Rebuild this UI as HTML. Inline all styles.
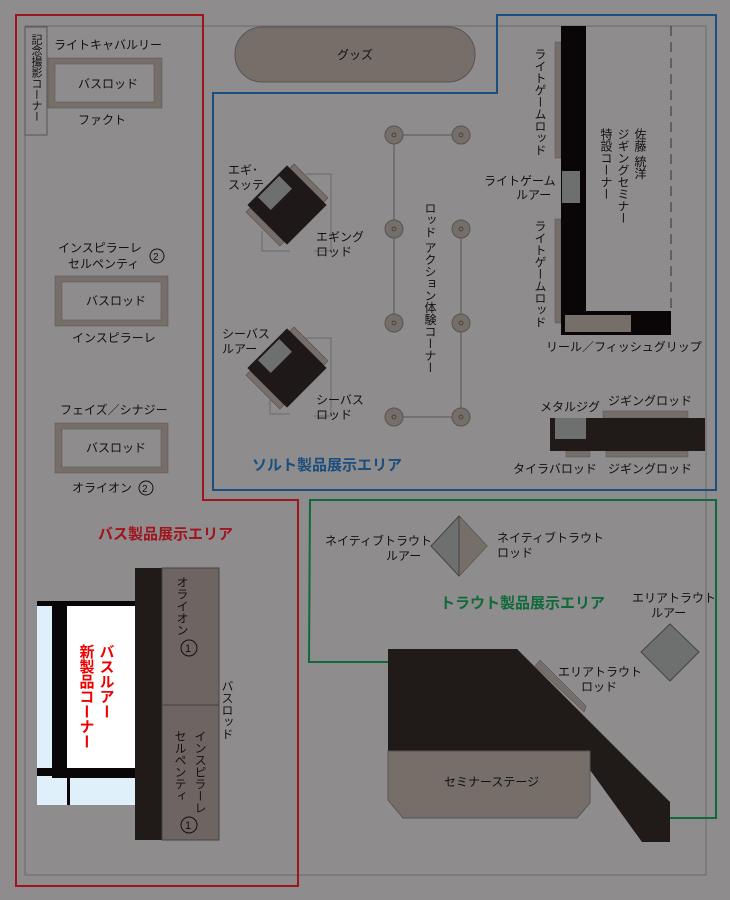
<!DOCTYPE html>
<html><head><meta charset="utf-8"><style>
html,body{margin:0;padding:0;background:#8e8c8c;}
svg{display:block;}
text{font-family:"Liberation Sans","Noto Sans CJK JP",sans-serif;font-size:12px;fill:#111;}
.v{writing-mode:tb;glyph-orientation-vertical:0;}
.t{font-size:15px;font-weight:bold;}
</style></head><body>
<svg width="730" height="900" viewBox="0 0 730 900" xmlns="http://www.w3.org/2000/svg">
<rect width="730" height="900" fill="#8e8c8c"/>
<rect x="25" y="26" width="681" height="849" fill="none" stroke="#6a6868" stroke-width="1"/>
<path d="M16 15H203V500H298V886H16Z" fill="none" stroke="#a0141e" stroke-width="2"/>
<path d="M497 15H716V490H213V93H497Z" fill="none" stroke="#1a4e7e" stroke-width="2"/>
<path d="M310 500H716V818H666L510 662H309Z" fill="none" stroke="#0e6a3a" stroke-width="2"/>
<rect x="25" y="27" width="22" height="108" fill="#8e8c8c" stroke="#555"/>
<text x="36" y="34" class="v" style="font-size:11px">記念撮影コーナー</text>
<g fill="#766e69" stroke="#555" stroke-width="0.5">
<rect x="48" y="58" width="114" height="50"/><rect x="55" y="64" width="99" height="38" fill="#8e8c8c"/>
<rect x="55" y="276" width="113" height="50"/><rect x="62" y="282" width="99" height="38" fill="#8e8c8c"/>
<rect x="55" y="423" width="113" height="50"/><rect x="62" y="429" width="99" height="38" fill="#8e8c8c"/>
</g>
<text x="78" y="88">バスロッド</text>
<text x="86" y="305">バスロッド</text>
<text x="86" y="452">バスロッド</text>
<text x="54" y="49">ライトキャバルリー</text>
<text x="78" y="124">ファクト</text>
<text x="58" y="252">インスピラーレ</text>
<text x="68" y="268">セルペンティ</text>
<circle cx="157" cy="256" r="7" fill="none" stroke="#111"/><text x="153" y="260" style="font-size:10px">2</text>
<text x="72" y="342">インスピラーレ</text>
<text x="60" y="414">フェイズ／シナジー</text>
<text x="72" y="492">オライオン</text>
<circle cx="146" cy="488" r="7" fill="none" stroke="#111"/><text x="142" y="492" style="font-size:10px">2</text>
<text x="98" y="539" class="t" style="fill:#a0141e">バス製品展示エリア</text>
<rect x="235" y="27" width="240" height="55" rx="27" fill="#766e69" stroke="#555"/>
<text x="337" y="59">グッズ</text>
<g transform="translate(287,205) rotate(45)">
<rect x="-24" y="-34" width="48" height="6" fill="#766e69" stroke="#444" stroke-width=".5"/>
<rect x="-24" y="28" width="48" height="6" fill="#766e69" stroke="#444" stroke-width=".5"/>
<rect x="-28" y="-28" width="56" height="56" fill="#1e1918"/>
<rect x="-26" y="-15" width="18" height="30" fill="#6e706f"/>
</g>
<g transform="translate(287,368) rotate(45)">
<rect x="-24" y="-34" width="48" height="6" fill="#766e69" stroke="#444" stroke-width=".5"/>
<rect x="-24" y="28" width="48" height="6" fill="#766e69" stroke="#444" stroke-width=".5"/>
<rect x="-28" y="-28" width="56" height="56" fill="#1e1918"/>
<rect x="-26" y="-15" width="18" height="30" fill="#6e706f"/>
</g>
<path d="M306 174H331V251H314M262 231V251H290" fill="none" stroke="#6a6868"/>
<path d="M306 338H331V416H314M270 398V414H290" fill="none" stroke="#6a6868"/>
<text x="228" y="174">エギ･</text><text x="228" y="189">スッテ</text>
<text x="316" y="241">エギング</text><text x="316" y="256">ロッド</text>
<text x="222" y="338">シーバス</text><text x="222" y="353">ルアー</text>
<text x="316" y="404">シーバス</text><text x="316" y="419">ロッド</text>
<g stroke="#555" fill="none"><path d="M394 135H461M394 417H461M394 135V323M461 229V417"/></g>
<g fill="#766e69" stroke="#555">
<circle cx="394" cy="135" r="9"/><circle cx="461" cy="135" r="9"/>
<circle cx="394" cy="229" r="9"/><circle cx="461" cy="229" r="9"/>
<circle cx="394" cy="323" r="9"/><circle cx="461" cy="323" r="9"/>
<circle cx="394" cy="417" r="9"/><circle cx="461" cy="417" r="9"/>
</g>
<g fill="none" stroke="#333" stroke-width=".7">
<circle cx="394" cy="135" r="2"/><circle cx="461" cy="135" r="2"/><circle cx="394" cy="229" r="2"/><circle cx="461" cy="229" r="2"/>
<circle cx="394" cy="323" r="2"/><circle cx="461" cy="323" r="2"/><circle cx="394" cy="417" r="2"/><circle cx="461" cy="417" r="2"/></g>
<text x="430" y="202" class="v">ロッド アクション体験コーナー</text>
<text x="252" y="470" class="t" style="fill:#1a4e7e">ソルト製品展示エリア</text>
<rect x="555" y="42" width="6" height="116" fill="#766e69" stroke="#555" stroke-width=".5"/>
<rect x="555" y="219" width="6" height="104" fill="#766e69" stroke="#555" stroke-width=".5"/>
<rect x="561" y="26" width="25" height="309" fill="#0a0506"/>
<rect x="561" y="311" width="110" height="24" fill="#0a0506"/>
<rect x="565" y="315" width="66" height="17" fill="#766e69"/>
<rect x="562" y="171" width="18" height="32" fill="#6e706f"/>
<line x1="671" y1="26" x2="671" y2="311" stroke="#333" stroke-dasharray="10,6"/>
<text x="540" y="48" class="v">ライトゲームロッド</text>
<text x="540" y="220" class="v">ライトゲームロッド</text>
<text x="484" y="185">ライトゲーム</text><text x="516" y="199">ルアー</text>
<text x="640" y="128" class="v">佐藤 統洋</text>
<text x="623" y="128" class="v">ジギングセミナー</text>
<text x="606" y="128" class="v">特設コーナー</text>
<text x="546" y="351">リール／フィッシュグリップ</text>
<rect x="603" y="411" width="85" height="7" fill="#766e69" stroke="#555" stroke-width=".5"/>
<rect x="566" y="451" width="24" height="6" fill="#766e69" stroke="#555" stroke-width=".5"/>
<rect x="606" y="451" width="82" height="6" fill="#766e69" stroke="#555" stroke-width=".5"/>
<rect x="550" y="418" width="155" height="33" fill="#201a19"/>
<rect x="555" y="418" width="31" height="21" fill="#6e706f"/>
<text x="540" y="411">メタルジグ</text>
<text x="608" y="405">ジギングロッド</text>
<text x="513" y="473">タイラバロッド</text>
<text x="608" y="473">ジギングロッド</text>
<polygon points="459,516 487,546 459,576 431,546" fill="#6e706f" stroke="#444"/>
<polygon points="459,516 487,546 459,576" fill="#766e69"/>
<line x1="459" y1="516" x2="459" y2="576" stroke="#444"/>
<text x="325" y="545">ネイティブトラウト</text><text x="386" y="560">ルアー</text>
<text x="497" y="542">ネイティブトラウト</text><text x="497" y="557">ロッド</text>
<text x="440" y="608" class="t" style="fill:#0e6a3a">トラウト製品展示エリア</text>
<polygon points="670,624 699,652 670,681 641,652" fill="#6e706f" stroke="#444"/>
<text x="632" y="602">エリアトラウト</text><text x="651" y="617">ルアー</text>
<text x="558" y="676">エリアトラウト</text><text x="581" y="691">ロッド</text>
<polygon points="535,666 540,660 586,706 584,712" fill="#766e69" stroke="#444" stroke-width=".5"/>
<polygon points="388,649 517,649 670,802 670,842 642,842 590,770 590,751 388,751" fill="#201a19"/>
<polygon points="388,751 590,751 590,803 577,818 403,818 388,800" fill="#766e69" stroke="#555"/>
<text x="444" y="786">セミナーステージ</text>
<rect x="37" y="603" width="98" height="202" fill="#dff0fa"/>
<rect x="37" y="601" width="98" height="5" fill="#0a0506"/>
<rect x="52" y="603" width="15" height="175" fill="#0a0506"/>
<rect x="37" y="768" width="98" height="8" fill="#0a0506"/>
<rect x="67" y="606" width="68" height="162" fill="#fff"/>
<rect x="52" y="768" width="83" height="10" fill="#0a0506"/>
<rect x="67" y="778" width="3" height="27" fill="#0a0506"/>
<rect x="135" y="568" width="27" height="272" fill="#201a19"/>
<rect x="162" y="568" width="57" height="272" fill="#6e6562" stroke="#444"/>
<line x1="162" y1="705" x2="219" y2="705" stroke="#444"/>
<text x="106" y="644" class="v t" style="fill:#e00">バスルアー</text>
<text x="86" y="644" class="v t" style="fill:#e00">新製品コーナー</text>
<text x="182" y="576" class="v">オライオン</text>
<circle cx="189" cy="648" r="8" fill="none" stroke="#111"/><text x="185" y="652" style="font-size:11px">1</text>
<text x="200" y="730" class="v">インスピラーレ</text>
<text x="180" y="730" class="v">セルペンティ</text>
<circle cx="189" cy="825" r="8" fill="none" stroke="#111"/><text x="185" y="829" style="font-size:11px">1</text>
<text x="227" y="680" class="v">バスロッド</text>
</svg>
</body></html>
